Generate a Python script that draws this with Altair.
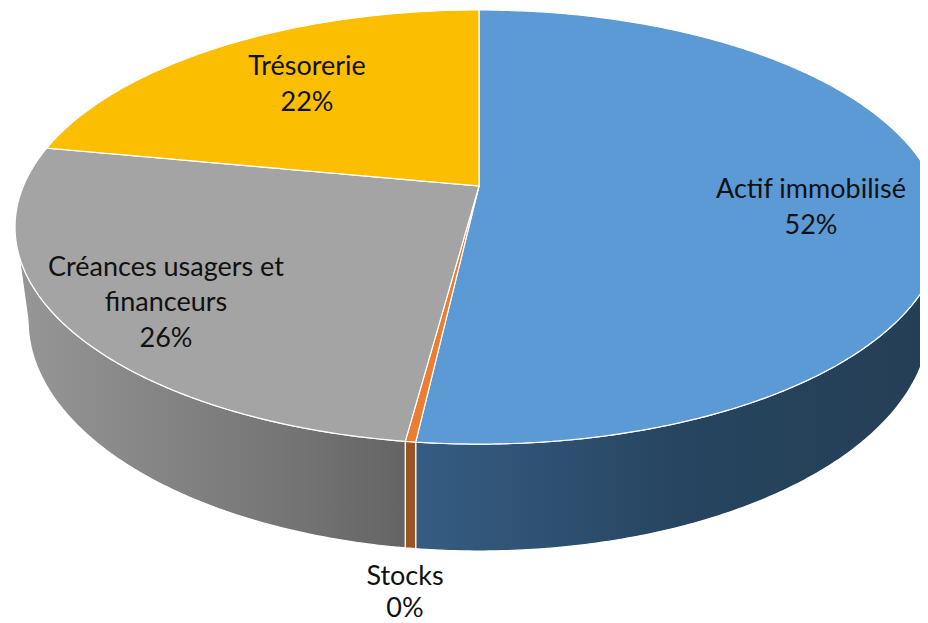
import numpy as np
import pandas as pd
import altair as alt

# ---- data (share of the total, %) ----
categories = ["Actif immobilisé", "Stocks", "Créances usagers et financeurs", "Trésorerie"]
shares = [51.8, 0.3, 25.9, 22.0]
label_lines = [["Actif immobilisé"], ["Stocks"], ["Créances usagers et", "financeurs"], ["Trésorerie"]]

# ---- styling ----
top_colors = ["#5B9AD5", "#ED7D31", "#A4A4A4", "#FBBE00"]
wall_stops = [
    [("#365C83", 0.0), ("#274560", 0.5), ("#243E54", 1.0)],
    [("#9A5522", 0.0), ("#9A5522", 1.0)],
    None,
    None,
]
grey_stops = [("#979797", 0.0), ("#888888", 0.3), ("#757575", 0.7), ("#646464", 1.0)]

# ---- layout: perspective view of a tilted disc, in screenshot pixels ----
W, H = 912, 615
PAGE = 8
AX, AY = 479.0, 186.0
A, B, K = 455.6, 209.3, 0.189
BOTTOM_A, BOTTOM_B, BOTTOM_CY = 451.0, 231.0, 320.0
LABEL_CENTRES = [(811, [189.5, 225.5]), (405, [577, 609]), (166, [268, 303, 339]), (307, [67, 103])]


def project(theta_deg, r=1.0):
    t = np.radians(theta_deg)
    X, Y = r * np.sin(t), r * np.cos(t)
    d = 1 + K * Y
    return AX + A * X / d, AY - B * Y / d


def envelope(poly_x, poly_y):
    """Turn a polygon into x / y-top / y-bottom rows for an area mark."""
    xs = np.unique(np.concatenate([poly_x - 1e-4, poly_x + 1e-4]))
    xs = xs[(xs >= poly_x.min()) & (xs <= poly_x.max())]
    rows = []
    x1, y1 = poly_x, poly_y
    x2, y2 = np.roll(poly_x, -1), np.roll(poly_y, -1)
    for x in xs:
        hit = ((x1 <= x) & (x2 > x)) | ((x2 <= x) & (x1 > x))
        if not hit.any():
            continue
        ys = y1[hit] + (x - x1[hit]) * (y2[hit] - y1[hit]) / (x2[hit] - x1[hit])
        rows.append({"x": float(x), "y": float(ys.min()), "y2": float(ys.max())})
    return pd.DataFrame(rows)


X_SCALE = alt.Scale(domain=[PAGE, PAGE + W], range=[0, W], nice=False, zero=False)
Y_SCALE = alt.Scale(domain=[PAGE, PAGE + H], range=[0, H], nice=False, zero=False)


def area_layer(df, fill):
    return (
        alt.Chart(df)
        .mark_area(fill=fill, stroke="white", strokeWidth=1.2, clip=True, interpolate="linear")
        .encode(
            x=alt.X("x:Q", scale=X_SCALE, axis=None),
            y=alt.Y("y:Q", scale=Y_SCALE, axis=None),
            y2="y2:Q",
        )
    )


def gradient(stops):
    return alt.Gradient(
        gradient="linear", x1=0, x2=1, y1=0, y2=0,
        stops=[alt.GradientStop(color=c, offset=o) for c, o in stops],
    )


edges = np.concatenate([[0], np.cumsum(shares)]) * 3.6
T_RIGHT = float(np.degrees(np.arccos(-K)))
T_LEFT = 360 - T_RIGHT
TIP_X, TIP_Y = project(T_RIGHT)
TIP_DX = TIP_X - AX


def wall_bottom(x):
    """Lower outline of the wall: smaller ellipse, joined to the rim by a straight edge."""
    dx = np.abs(np.asarray(x) - AX)
    inside = np.clip(1 - (dx / BOTTOM_A) ** 2, 0, None)
    ell = BOTTOM_CY + BOTTOM_B * np.sqrt(inside)
    edge = BOTTOM_CY + (TIP_Y - BOTTOM_CY) * (dx - BOTTOM_A) / (TIP_DX - BOTTOM_A)
    return np.where(dx < BOTTOM_A, ell, edge)


layers = []
# side walls: only the part of the rim that faces the viewer
for i, (a, b) in enumerate(zip(edges[:-1], edges[1:])):
    lo, hi = max(a, T_RIGHT), min(b, T_LEFT)
    if hi <= lo:
        continue
    th = np.linspace(lo, hi, max(2, int((hi - lo) / 0.5) + 2))
    x, y = project(th)
    df = pd.DataFrame({"x": x, "y": y, "y2": wall_bottom(x)}).sort_values("x")
    stops = wall_stops[i] if wall_stops[i] else grey_stops
    layers.append(area_layer(df, gradient(stops)))

# top wedges
for i, (a, b) in enumerate(zip(edges[:-1], edges[1:])):
    th = np.linspace(a, b, max(2, int((b - a) / 1.0) + 2))
    x, y = project(th)
    px = np.concatenate([[AX], x])
    py = np.concatenate([[AY], y])
    layers.append(area_layer(envelope(px, py), top_colors[i]))

# labels
rows = []
for cat_lines, share, (cx, ys) in zip(label_lines, shares, LABEL_CENTRES):
    texts = cat_lines + [f"{round(share)}%"]
    for t, yy in zip(texts, ys):
        rows.append({"x": cx, "y": yy, "t": t})
labels = (
    alt.Chart(pd.DataFrame(rows))
    .mark_text(font="Lato", fontSize=27, color="#111111", align="center", baseline="middle")
    .encode(
        x=alt.X("x:Q", scale=X_SCALE, axis=None),
        y=alt.Y("y:Q", scale=Y_SCALE, axis=None),
        text="t:N",
    )
)
layers.append(labels)

chart = (
    alt.layer(*layers)
    .properties(width=W, height=H, padding=0, background="white",
                autosize=alt.AutoSizeParams(type="none"))
    .configure_view(stroke=None)
)
chart.save("out.html", embed_options={"renderer": "svg", "actions": False})
